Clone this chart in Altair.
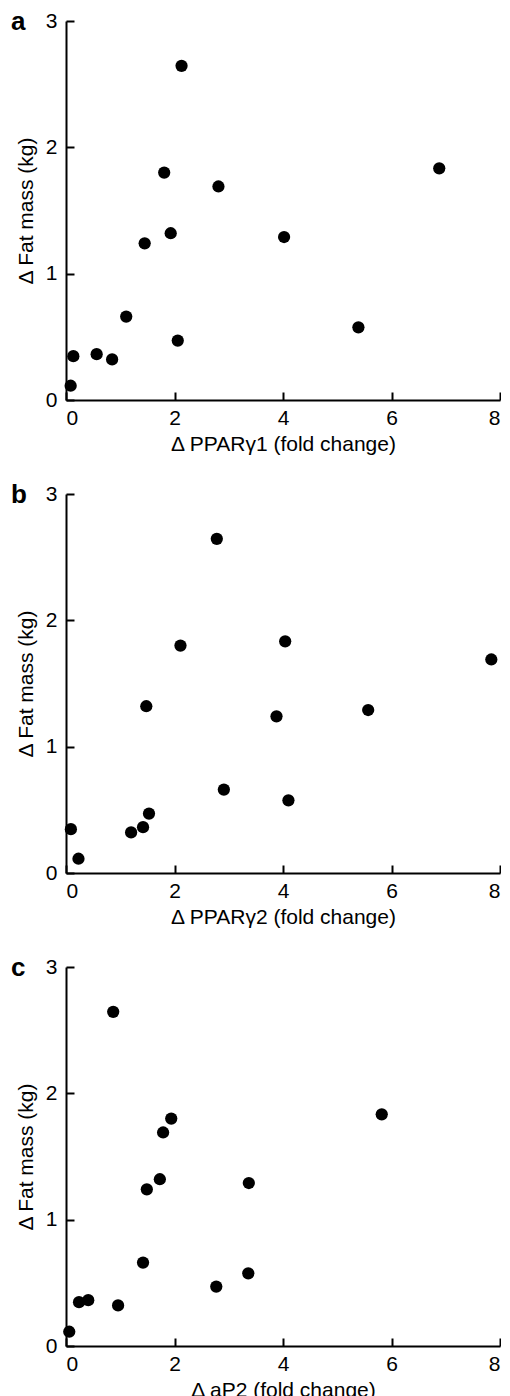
import altair as alt
import pandas as pd

# Shared outcome (same 14 subjects in every panel)
fat_mass = [2.645, 1.834, 1.80, 1.69, 1.32, 1.29, 1.24, 0.66, 0.575, 0.47, 0.363, 0.347, 0.321, 0.113]
# Predictors per panel
ppar_g1 = [2.13, 6.88, 1.81, 2.81, 1.93, 4.02, 1.45, 1.11, 5.39, 2.06, 0.565, 0.135, 0.85, 0.086]
ppar_g2 = [2.78, 4.04, 2.11, 7.84, 1.48, 5.57, 3.88, 2.91, 4.10, 1.53, 1.42, 0.09, 1.20, 0.23]
ap2 = [0.87, 5.82, 1.94, 1.79, 1.73, 3.37, 1.49, 1.42, 3.36, 2.77, 0.41, 0.24, 0.96, 0.06]

panel_letters = ["a", "b", "c"]
x_titles = ["Δ PPARγ1 (fold change)", "Δ PPARγ2 (fold change)", "Δ aP2 (fold change)"]
y_title = "Δ Fat mass (kg)"
x_ticks = [0, 2, 4, 6, 8]
y_ticks = [0, 1, 2, 3]

FONT = "Liberation Sans"
W, H = 434, 379


def panel(xvals, letter, xtitle):
    df = pd.DataFrame({"x": xvals, "y": fat_mass})
    pts = alt.Chart(df).mark_circle(size=150, color="black", opacity=1).encode(
        x=alt.X("x:Q", scale=alt.Scale(domain=[0, 8], nice=False),
                axis=alt.Axis(values=x_ticks, title=xtitle, tickSize={"expr": "-8"},
                              labelPadding=15, titlePadding=5)),
        y=alt.Y("y:Q", scale=alt.Scale(domain=[0, 3], nice=False),
                axis=alt.Axis(values=y_ticks, title=y_title, tickSize={"expr": "-8"},
                              labelPadding=17, titlePadding=9)),
    )
    lab = alt.Chart(pd.DataFrame({"letter": [letter]})).mark_text(
        font=FONT, fontSize=26, fontWeight="bold", align="left", baseline="alphabetic", color="black"
    ).encode(x=alt.value(-55), y=alt.value(9), text="letter:N")
    return alt.layer(pts, lab).properties(width=W, height=H)


chart = alt.vconcat(
    panel(ppar_g1, panel_letters[0], x_titles[0]),
    panel(ppar_g2, panel_letters[1], x_titles[1]),
    panel(ap2, panel_letters[2], x_titles[2]),
    spacing=28,
).properties(
    padding={"top": 1, "left": 3, "right": 0, "bottom": 0}
).configure_view(stroke=None).configure_axis(
    grid=False,
    domainColor="black",
    domainWidth=2,
    tickColor="black",
    tickWidth=2,
    labelFont=FONT,
    labelFontSize=21,
    labelColor="black",
    titleFont=FONT,
    titleFontSize=21,
    titleFontWeight="normal",
    titleColor="black",
)

chart.save("out.html", embed_options={"renderer": "svg", "actions": False})
